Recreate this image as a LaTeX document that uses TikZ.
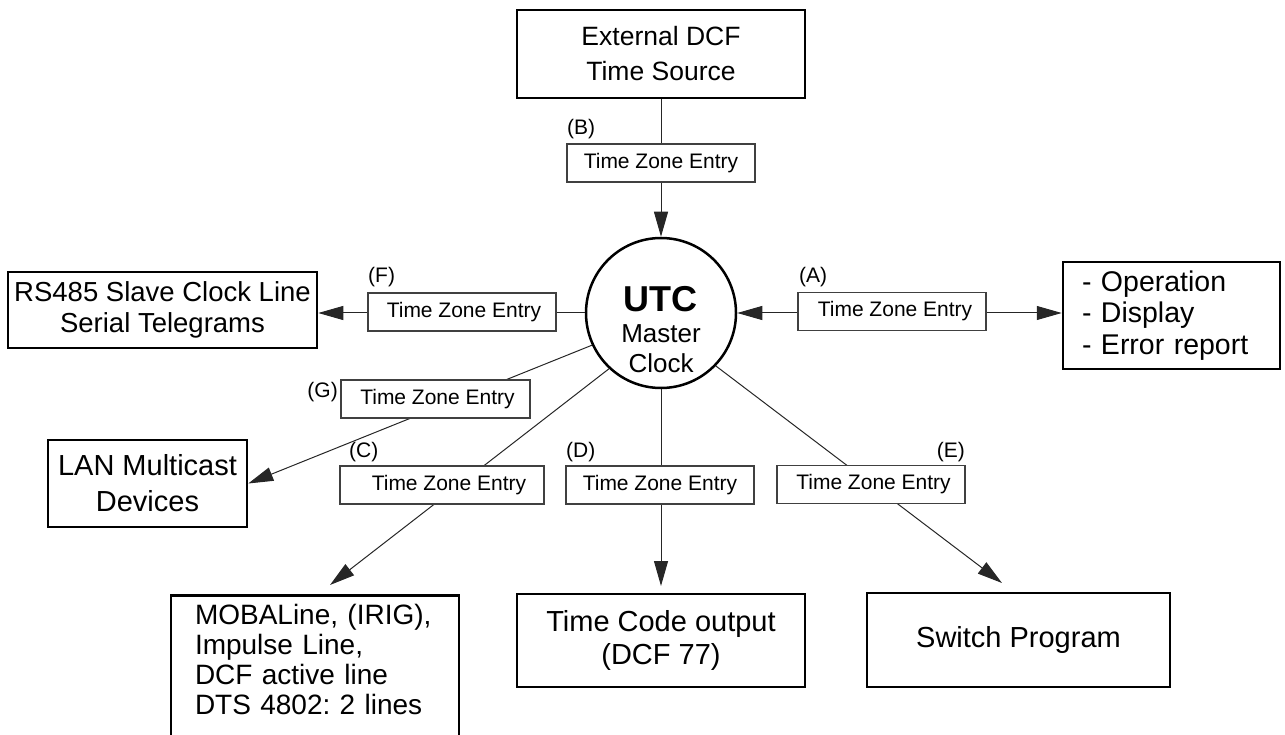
\documentclass[tikz,border=0pt]{standalone}
\usepackage{fontspec}
\setmainfont{Liberation Sans}
\usetikzlibrary{arrows.meta}
\frenchspacing
\begin{document}
\frenchspacing
\begin{tikzpicture}[x=1pt,y=-1pt,
  bigbox/.style={draw=black, line width=2.5pt, inner sep=0pt, align=center},
  tzbox/.style={draw=black!75, line width=1.1pt, fill=white, minimum width=188pt, minimum height=38pt, inner sep=0pt, font=\fontsize{21}{25}\selectfont},
  lbl/.style={inner sep=0pt, font=\fontsize{21}{25}\selectfont},
  conn/.style={draw=black!85, line width=1pt},
  tip/.style={-{Triangle[length=25pt,width=14pt]}},
  tips/.style={{Triangle[length=25pt,width=14pt]}-{Triangle[length=25pt,width=14pt]}},
  utctext/.style={anchor=base, inner sep=0pt, font=\fontsize{26}{30}\selectfont},
]
\useasboundingbox (0,0) rectangle (1285,735);
\clip (0,0) rectangle (1285,735);

% main boxes
\node[bigbox, minimum width=288pt, minimum height=88pt, font=\fontsize{26.5}{35}\selectfont] (dcf) at (661,54) {External DCF\\Time Source};
\node[bigbox, minimum width=217pt, minimum height=107pt, text width=179pt, align=left, font=\fontsize{28.5}{31.5}\selectfont] (out) at (1171.5,315.5) {- Operation\\- Display\\- Error report};
\node[bigbox, minimum width=309pt, minimum height=76pt, font=\fontsize{27.5}{31}\selectfont] (rs) at (162.5,310) {RS485 Slave Clock Line\\Serial Telegrams};
\node[bigbox, minimum width=199pt, minimum height=87pt, font=\fontsize{29}{36}\selectfont] (lan) at (147.5,483.5) {LAN Multicast\\Devices};
\node[bigbox, anchor=north, minimum width=288pt, text width=240pt, align=left, inner ysep=8.6pt, font=\fontsize{28}{30}\selectfont] (moba) at (315,594) {MOBALine, (IRIG),\\Impulse Line,\\DCF active line\\DTS 4802: 2 lines\rule[-40pt]{0pt}{40pt}};
\node[bigbox, minimum width=288pt, minimum height=93pt, font=\fontsize{29}{33}\selectfont] (tc) at (661,640.5) {Time Code output\\(DCF 77)};
\node[bigbox, minimum width=303pt, minimum height=94pt, font=\fontsize{29}{33}\selectfont] (sw) at (1018.5,640) {Switch Program};

% master clock
\node[circle, draw=black, line width=2.5pt, minimum size=150pt, inner sep=0pt] (utc) at (661,313) {};
\node[utctext, font=\fontsize{36}{40}\selectfont\bfseries] (utcA) at (660,312) {UTC};
\node[utctext] (utcB) at (661,342) {Master};
\node[utctext] (utcC) at (661,372) {Clock};

% arrow end points
\coordinate (cTip) at (330,585);
\coordinate (dTip) at (661,586);
\coordinate (eTip) at (1002,583);

% connectors
\draw[conn,tip] (dcf.south) -- (utc.north);
\draw[conn,tips] (utc.east) -- (utc.east -| out.west);
\draw[conn,tip] (utc.west) -- (utc.west -| rs.east);
\draw[conn,tip] (utc.205) -- (lan.east);
\draw[conn,tip] (utc.227) -- (cTip);
\draw[conn,tip] (utc.south) -- (dTip);
\draw[conn,tip] (utc.316) -- (eTip);

% time zone entry boxes
\node[tzbox] (tzB) at (661,163) {Time Zone Entry};
\node[tzbox] (tzA) at (892,311.5) {\hspace*{6pt}Time Zone Entry};
\node[tzbox] (tzF) at (462,312) {\hspace*{4pt}Time Zone Entry};
\node[tzbox, minimum width=189pt] (tzG) at (435.5,399) {\hspace*{4pt}Time Zone Entry};
\node[tzbox, minimum width=204pt] (tzC) at (442,485) {\hspace*{14pt}Time Zone Entry};
\node[tzbox] (tzD) at (660,485) {Time Zone Entry};
\node[tzbox] (tzE) at (871,484.5) {\hspace*{5pt}Time Zone Entry};

% labels
\node[lbl, anchor=south west] (lB) at (567,139) {(B)};
\node[lbl, anchor=south west] (lA) at (799,287) {(A)};
\node[lbl, anchor=south west] (lF) at (368,287) {(F)};
\node[lbl, anchor=east] (lG) at (338,392) {(G)};
\node[lbl, anchor=south west] (lC) at (349,462) {(C)};
\node[lbl, anchor=south west] (lD) at (566,462) {(D)};
\node[lbl, anchor=south east] (lE) at (965,462) {(E)};
\end{tikzpicture}
\end{document}
